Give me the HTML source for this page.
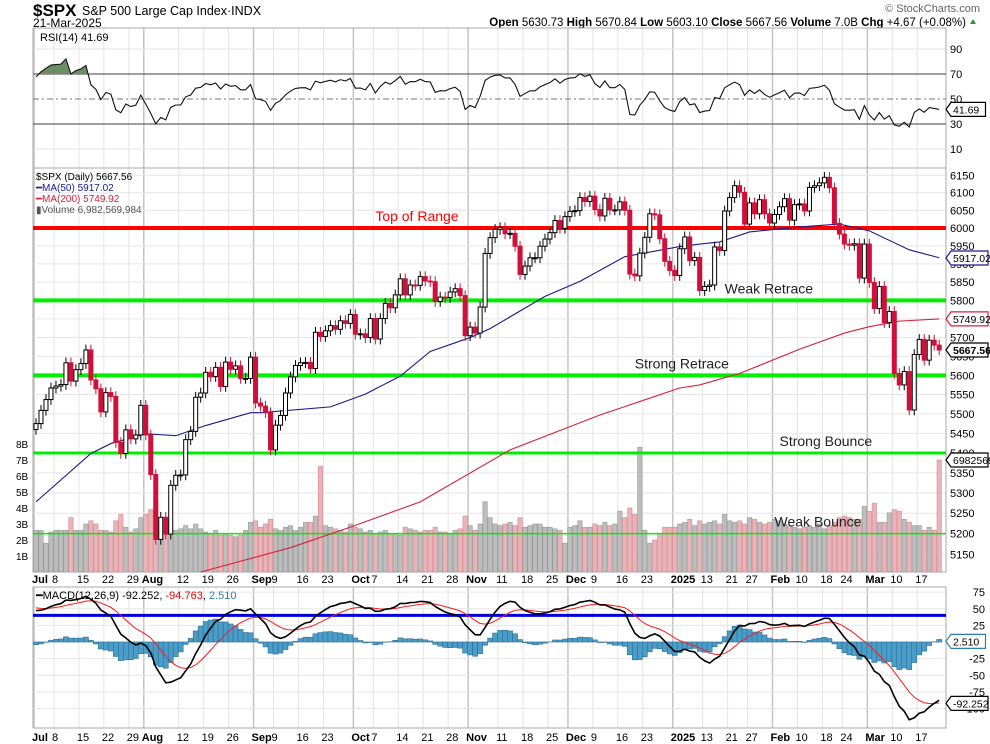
<!DOCTYPE html>
<html><head><meta charset="utf-8">
<style>
body{margin:0;background:#fff;}
svg{display:block;font-family:"Liberation Sans",Arial,sans-serif;}
</style></head>
<body>
<svg id="chart" width="990" height="744" viewBox="0 0 990 744" xmlns="http://www.w3.org/2000/svg">
<g>
<text x="33" y="16" font-size="17" font-weight="bold">$SPX</text>
<text x="82" y="15" font-size="12.5">S&amp;P 500 Large Cap Index·INDX</text>
<text x="33" y="27" font-size="12">21-Mar-2025</text>
<text x="980" y="12" font-size="11" fill="#666" text-anchor="end">© StockCharts.com</text>
<text x="966" y="26" font-size="11.5" text-anchor="end"><tspan font-weight="bold">Open</tspan> 5630.73  <tspan font-weight="bold">High</tspan> 5670.84  <tspan font-weight="bold">Low</tspan> 5603.10  <tspan font-weight="bold">Close</tspan> 5667.56  <tspan font-weight="bold">Volume</tspan> 7.0B  <tspan font-weight="bold">Chg</tspan> +4.67 (+0.08%)</text>
<polygon points="970,24 976,24 973,19" fill="#2a9a2a"/>
</g>
<g id="grid"></g>
<g id="panels"></g>
<g id="marks"></g>
<g id="labels"></g>
</svg>
<script>
// ---------------- DATA ----------------
const closes = [
5475,5509,5537,5567,5572,5576,5633,5585,5615,5631,5667,5588,5565,5505,5555,5545,5427,5399,5459,5436,5446,5522,
5446,5346,5186,5240,5199,5319,5344,5345,5434,5455,5543,5554,5608,5597,5621,5571,5635,5616,5625,5592,5592,5648,
5528,5520,5503,5408,5471,5496,5554,5596,5626,5633,5634,5618,5714,5703,5718,5732,5722,5745,5738,5762,
5709,5710,5700,5751,5696,5751,5792,5780,5815,5859,5815,5842,5841,5865,5853,5851,5797,5809,5808,5823,5832,5813,5705,
5728,5712,5782,5929,5973,5996,6001,5984,5985,5949,5871,5894,5917,5917,5949,5969,5987,6021,5999,6032,
6047,6049,6086,6075,6090,6052,6034,6084,6051,6051,6074,6050,5872,5867,5930,5974,6040,6037,5970,5907,5882,
5868,5942,5975,5909,5918,5827,5838,5842,5947,5937,6048,6086,6120,6101,6011,6071,6040,6080,6040,6014,
6038,6060,6083,6022,6066,6068,6048,6115,6120,6128,6144,6114,6013,5983,5955,5952,5956,5861,5955,
5849,5778,5838,5740,5770,5605,5575,5610,5510,5655,5695,5640,5693,5680,5667];
const priorCloses = [5222,5308,5321,5304,5267,5235,5278,5278,5283,5291,5354,5352,5347,5360,5375,5421,5433,5431,5473,5487,5487,5473,5464,5447,5478,5469,5477,5483,5460];
const volumes = [
2.6,2.6,1.8,2.5,2.6,2.6,2.6,3.4,2.6,2.6,3.0,3.2,3.0,2.6,2.6,2.5,3.2,3.6,2.8,2.5,2.7,3.4,
3.6,3.9,4.3,3.3,3.0,3.2,2.6,2.7,2.9,2.7,3.0,2.7,2.5,2.4,2.6,2.3,2.4,2.3,2.2,2.3,2.6,3.1,
3.2,2.8,3.0,3.3,2.7,2.6,2.8,2.9,2.6,2.8,3.1,3.1,3.5,6.6,2.9,2.8,2.7,2.6,2.5,3.0,
2.8,2.7,2.5,2.6,2.4,2.5,2.6,2.4,2.4,2.3,2.8,2.7,2.6,2.5,2.6,2.6,2.8,2.5,2.5,2.4,2.6,2.7,3.5,
2.9,2.6,3.0,4.4,3.4,3.0,2.9,3.0,3.1,2.9,3.4,2.8,2.9,3.0,3.0,2.8,2.8,2.7,2.6,1.8,
2.8,2.9,3.2,2.8,2.8,3.0,2.9,3.1,2.9,3.0,3.8,3.4,4.0,3.6,7.8,2.6,1.8,2.0,2.4,2.8,2.8,
2.8,3.0,3.1,3.3,2.9,3.2,3.0,3.1,3.2,3.0,3.6,3.2,3.1,3.2,3.0,3.4,3.3,3.1,3.0,3.1,
3.3,3.2,3.0,2.9,2.8,2.7,2.8,2.9,2.8,3.0,2.7,2.9,3.1,3.4,3.5,3.4,3.3,3.3,4.1,
3.8,4.3,3.1,3.1,3.7,3.9,3.8,3.3,3.1,2.9,2.9,2.6,2.8,2.6,7.0];
const ma50Idx = [0,11,15,22,28,34,43,45,59,66,73,79,87,91,102,109,118,129,133,137,143,153,161,167,175,181];
const ma50Val = [5278,5399,5424,5449,5444,5470,5503,5503,5518,5551,5598,5663,5700,5724,5811,5852,5920,5948,5955,5961,5989,6003,6011,5992,5939,5917];
const ma200Idx = [33,51,63,77,95,113,129,133,141,153,162,167,173,181];
const ma200Val = [5107,5166,5216,5278,5408,5497,5567,5575,5605,5669,5712,5729,5744,5750];
const priceTicks = [6150,6100,6050,6000,5950,5900,5850,5800,5750,5700,5650,5600,5550,5500,5450,5400,5350,5300,5250,5200,5150];
const volTicks = [1,2,3,4,5,6,7,8];
const rsiTicks = [90,70,50,30,10];
const macdTicks = [75,50,25,0,-25,-50,-75,-100];
const dateLabels = ["Jul","8","15","22","29","Aug","12","19","26","Sep","9","16","23","Oct","7","14","21","28","Nov","11","18","25","Dec","9","16","23","2025","13","21","27","Feb","10","18","24","Mar","10","17"];
const dateIdx =    [0,4,9,14,19,22,29,34,39,44,48,53,58,64,68,73,78,83,87,93,98,103,107,112,117,122,128,134,139,143,148,153,158,162,167,172,177];
const monthStarts = [0,22,44,64,87,107,128,148,167];
const hLevels = [6000,5800,5600,5400,5200];
const hColors = ["#ff0000","#00ee00","#00ee00","#00ee00","#00ee00"];
const hWidths = [4,4,4,3,1.5];
const hNotes = ["Top of Range","Weak Retrace","Strong Retrace","Strong Bounce","Weak Bounce"];
const hNoteIdx = [68,138,120,149,148];
const hNoteColors = ["#ff0000","#222","#222","#222","#222"];

// ---------------- AXES ----------------
const L=33,R=946;
const X = i => 36 + i*4.99;
const PY = p => 228 - 2136*Math.log(p/6000);
const VY = v => 572 - v*16;
const RY = r => 99 - (r-50)*1.25;
const MY = m => 642 - m*0.665;
const NS="http://www.w3.org/2000/svg";
function mk(parent,tag,attrs){const e=document.createElementNS(NS,tag);for(const k in attrs)e.setAttribute(k,attrs[k]);parent.appendChild(e);return e;}
const grid=document.getElementById('grid'),panels=document.getElementById('panels'),marks=document.getElementById('marks'),labels=document.getElementById('labels');

// indicators
const all = priorCloses.concat(closes), off = priorCloses.length;
const rsi=[]; {let ag=0,al=0;for(let k=1;k<=14;k++){const d=all[k]-all[k-1];if(d>0)ag+=d;else al-=d;}ag/=14;al/=14;
 for(let k=15;k<all.length;k++){const d=all[k]-all[k-1];ag=(ag*13+Math.max(d,0))/14;al=(al*13+Math.max(-d,0))/14;if(k>=off)rsi.push(100-100/(1+ag/al));}}
const macd=[],sig=[];{let e12=all[0],e26=all[0],s=0;for(let k=0;k<all.length;k++){e12+=(all[k]-e12)*2/13;e26+=(all[k]-e26)*2/27;const m=e12-e26;s=k===0?m:s+(m-s)*0.2;if(k>=off){macd.push(m);sig.push(s);}}}

// grid
const panelsY=[[28,168],[168,572],[587,728]];
dateIdx.forEach((d,j)=>{const x=X(d)-2;const mon=monthStarts.includes(d);
 panelsY.forEach(([a,b])=>{const g=mk(grid,'line',{x1:x,x2:x,y1:a,y2:b,stroke:mon?'#c4c4c4':'#e4e4e4','stroke-width':mon?1.5:1});
 
 });});
priceTicks.forEach(p=>{const g=mk(grid,'line',{x1:L,x2:R,y1:PY(p),y2:PY(p),stroke:'#e6e6e6'});
 
 });
macdTicks.forEach(m=>{const g=mk(grid,'line',{x1:L,x2:R,y1:MY(m),y2:MY(m),stroke:'#e6e6e6'});
 
 });
[90,10].forEach(r=>{const g=mk(grid,'line',{x1:L,x2:R,y1:RY(r),y2:RY(r),stroke:'#e6e6e6'});
 
 });

// panel borders
panelsY.forEach(([a,b],j)=>{const r=mk(panels,'rect',{x:L,y:a,width:R-L,height:b-a,fill:'none',stroke:'#aaa'});
 
 });

// ---------- RSI ----------
[70,30].forEach(r=>{const l=mk(marks,'line',{x1:L,x2:R,y1:RY(r),y2:RY(r),stroke:'#666','stroke-width':1.2});
 
 });
{const l=mk(marks,'line',{x1:L,x2:R,y1:RY(50),y2:RY(50),stroke:'#777','stroke-dasharray':'6,3,2,3'});
 
 }
const rsiPts=rsi.map((r,i)=>X(i)+','+RY(r)).join(' ');
mk(marks,'clipPath',{id:'above70'}).appendChild(document.createElementNS(NS,'rect'));
{const cr=document.querySelector('#above70 rect');cr.setAttribute('x',L);cr.setAttribute('y',28);cr.setAttribute('width',R-L);cr.setAttribute('height',RY(70)-28);}
{const f=mk(marks,'polygon',{points:X(0)+','+RY(70)+' '+rsiPts+' '+X(rsi.length-1)+','+RY(70),fill:'#6b8e63',stroke:'none','clip-path':'url(#above70)'});
 
 }
{const p=mk(marks,'polyline',{points:rsiPts,fill:'none',stroke:'#111','stroke-width':1.1});
 
 }

// ---------- Volume ----------
volumes.forEach((v,i)=>{const down=i>0?closes[i]<closes[i-1]:false;
 const r=mk(marks,'rect',{x:X(i)-2.2,y:VY(v),width:4.4,height:572-VY(v),fill:down?'#e8b4b8':'#bdbdbd',stroke:down?'#d88a92':'#9a9a9a','stroke-width':0.6});
 
 });

// ---------- horizontal levels ----------
hLevels.forEach((p,j)=>{const l=mk(marks,'line',{x1:L,x2:R,y1:PY(p),y2:PY(p),stroke:hColors[j],'stroke-width':hWidths[j]});
 
 
 const t=mk(labels,'text',{x:X(hNoteIdx[j]),y:PY(p)-7,'font-size':14,fill:hNoteColors[j]});t.textContent=hNotes[j];
 
 });

// ---------- MAs ----------
{const p=mk(marks,'polyline',{points:ma50Idx.map((d,k)=>X(d)+','+PY(ma50Val[k])).join(' '),fill:'none',stroke:'#1a1a8c','stroke-width':1.1});
 
 }
{const p=mk(marks,'polyline',{points:ma200Idx.map((d,k)=>X(d)+','+Math.min(572,PY(ma200Val[k]))).join(' '),fill:'none',stroke:'#d6223a','stroke-width':1.1});
 
 }

// ---------- Candles ----------
closes.forEach((c,i)=>{const o=i>0?closes[i-1]:5460;const up=c>=o;
 const hi=Math.max(o,c)*1.0025,lo=Math.min(o,c)*0.9975;const col=up?'#000':'#d0103a';
 const w=mk(marks,'line',{x1:X(i),x2:X(i),y1:PY(hi),y2:PY(lo),stroke:col,'stroke-width':1});
 
 
 const top=PY(Math.max(o,c)),bot=PY(Math.min(o,c));
 const b=mk(marks,'rect',{x:X(i)-2,y:top,width:4,height:Math.max(1,bot-top),fill:up?'#fff':'#d0103a',stroke:col,'stroke-width':1});
 
 });

// ---------- MACD ----------
{const l=mk(marks,'line',{x1:L,x2:R,y1:MY(40),y2:MY(40),stroke:'#0000dd','stroke-width':3});
 
 }
macd.forEach((m,i)=>{const h=m-sig[i];const y0=MY(0),y1=MY(h);
 const r=mk(marks,'rect',{x:X(i)-2.5,y:Math.min(y0,y1),width:5,height:Math.abs(y1-y0),fill:'#4a9cc9',stroke:'#2d6f92','stroke-width':0.6});
 
 });
{const p=mk(marks,'polyline',{points:sig.map((s,i)=>X(i)+','+MY(s)).join(' '),fill:'none',stroke:'#ff1a1a','stroke-width':1});
 
 }
{const p=mk(marks,'polyline',{points:macd.map((s,i)=>X(i)+','+MY(s)).join(' '),fill:'none',stroke:'#000','stroke-width':1.6});
 
 }

// ---------- axis labels ----------
function txt(x,y,s,attrs,name){const t=mk(labels,'text',Object.assign({x:x,y:y,'font-size':11},attrs||{}));t.textContent=s;
 
 return t;}
rsiTicks.forEach(r=>txt(950,RY(r)+4,String(r),{},'rsi-tick-label'));
priceTicks.forEach(p=>txt(950,PY(p)+4,String(p),{},'price-tick-label'));
volTicks.forEach(v=>txt(16,VY(v)+4,v+'B',{'font-size':10},'volume-tick-label'));
macdTicks.forEach(m=>txt(985,MY(m)+4,String(m),{'text-anchor':'end'},'macd-tick-label'));
dateLabels.forEach((s,j)=>{const bold=isNaN(+s)||s==='2025';
 txt(X(dateIdx[j])-4,583,s,{'font-weight':bold?'bold':'normal','font-size':11},'date-label');
 txt(X(dateIdx[j])-4,741,s,{'font-weight':bold?'bold':'normal','font-size':11},'date-label');});

// legends
txt(40,41,'RSI(14) 41.69',{'font-size':11},'rsi-legend');
txt(36,180,'$SPX (Daily) 5667.56',{'font-size':10},'price-legend');
txt(36,191,'━MA(50) 5917.02',{'font-size':10,fill:'#1a1a8c'},'ma50-legend');
txt(36,202,'━MA(200) 5749.92',{'font-size':10,fill:'#d6223a'},'ma200-legend');
txt(36,213,'▮Volume 6,982,569,984',{'font-size':10,fill:'#555'},'volume-legend');
{const t=txt(36,599,'',{'font-size':11},'macd-legend');
 t.innerHTML='<tspan>━MACD(12,26,9) -92.252, </tspan><tspan fill="#e00">-94.763</tspan><tspan>, </tspan><tspan fill="#2d7fb0">2.510</tspan>';}

// right tags
function tag(y,s,color,bold,name){const w=Math.min(989-R-6, s.length*5.9+5);
 const p=mk(labels,'polygon',{points:`${R},${y} ${R+5},${y-7} ${R+5+w},${y-7} ${R+5+w},${y+7} ${R+5},${y+7}`,fill:'#fff',stroke:color,'stroke-width':1.2});
 
 
 txt(R+7,y+4,s,{'font-weight':bold?'bold':'normal','font-size':10.5},name);}
tag(RY(rsi[rsi.length-1]),'41.69','#000',false,'rsi-value-tag');
tag(258,'5917.02','#1a1a8c',false,'ma50-value-tag');
tag(PY(5750),'5749.92','#d6223a',false,'ma200-value-tag');
tag(PY(closes[closes.length-1]),'5667.56','#000',true,'close-value-tag');
tag(VY(7.0),'6982569','#000',false,'volume-value-tag');
tag(MY(2.5)+1,'2.510','#2d7fb0',false,'histogram-value-tag');
tag(MY(-92.25),'-92.252','#000',false,'macd-value-tag');
</script>
</body></html>
